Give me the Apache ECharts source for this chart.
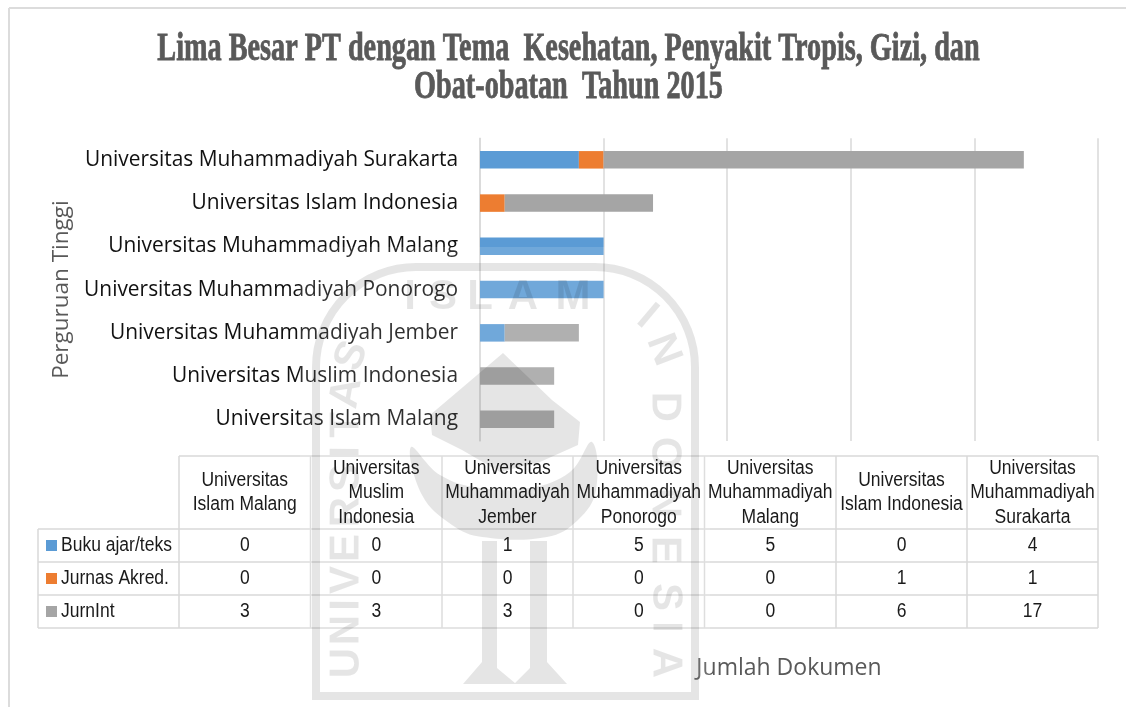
<!DOCTYPE html>
<html>
<head>
<meta charset="utf-8">
<title>Lima Besar PT</title>
<style>
  html, body { margin: 0; padding: 0; background: #fff; }
  #main { width: 1126px; height: 707px; }
</style>
<script src="https://cdn.jsdelivr.net/npm/echarts@6/dist/echarts.min.js"></script>
</head>
<body>
<div id="main"></div>
<script>
// data, bottom to top on the y axis
const categories = ['Universitas Islam Malang', 'Universitas Muslim Indonesia', 'Universitas Muhammadiyah Jember', 'Universitas Muhammadiyah Ponorogo', 'Universitas Muhammadiyah Malang', 'Universitas Islam Indonesia', 'Universitas Muhammadiyah Surakarta']
const bukuAjar = [0, 0, 1, 5, 5, 0, 4]
const jurnasAkred = [0, 0, 0, 0, 0, 1, 1]
const jurnInt = [3, 3, 3, 0, 0, 6, 17]
const seriesNames = ['Buku ajar/teks', 'Jurnas Akred.', 'JurnInt']
const seriesColors = ['#5b9bd5', '#ed7d31', '#a5a5a5']
const tableHeaders = ['Universitas\nIslam Malang', 'Universitas\nMuslim\nIndonesia', 'Universitas\nMuhammadiyah\nJember', 'Universitas\nMuhammadiyah\nPonorogo', 'Universitas\nMuhammadiyah\nMalang', 'Universitas\nIslam Indonesia', 'Universitas\nMuhammadiyah\nSurakarta']
const titleLines = ['Lima Besar PT dengan Tema  Kesehatan, Penyakit Tropis, Gizi, dan', 'Obat-obatan  Tahun 2015']

const seriesValues = [bukuAjar, jurnasAkred, jurnInt]
const gridColor = '#d9d9d9'
const greyText = '#595959'
const sansFont = '"Open Sans", "Noto Sans", sans-serif'

// data table under the plot
const colX = [179, 310.5, 442, 573, 704.5, 836, 967, 1098]
const rowY = [456, 529, 562, 595, 628]
const tableLeft = 38
const graphics = []

function hLine(x1, x2, y) {
  graphics.push({ type: 'line', silent: true, shape: { x1, y1: y, x2, y2: y }, style: { stroke: gridColor, lineWidth: 1.5 } })
}
function vLine(x, y1, y2) {
  graphics.push({ type: 'line', silent: true, shape: { x1: x, y1, x2: x, y2 }, style: { stroke: gridColor, lineWidth: 1.5 } })
}
function tableText(text, x, y, align) {
  graphics.push({
    type: 'text', silent: true, x, y, scaleX: 0.875, z: 20,
    style: { text, fill: '#1a1a1a', font: '20px "Liberation Sans", Arial, sans-serif', align: align || 'center', verticalAlign: 'middle', lineHeight: 24.5 }
  })
}

hLine(colX[0], colX[7], rowY[0])
rowY.slice(1).forEach(y => hLine(tableLeft, colX[7], y))
colX.forEach(x => vLine(x, rowY[0], rowY[4]))
vLine(tableLeft, rowY[1], rowY[4])

tableHeaders.forEach((h, i) => {
  tableText(h, (colX[i] + colX[i + 1]) / 2, (rowY[0] + rowY[1]) / 2)
})
seriesValues.forEach((vals, r) => {
  const cy = (rowY[r + 1] + rowY[r + 2]) / 2
  graphics.push({ type: 'rect', silent: true, shape: { x: 46, y: cy - 5.5, width: 11, height: 11 }, style: { fill: seriesColors[r] } })
  tableText(seriesNames[r], 61, cy, 'left')
  vals.forEach((v, i) => tableText(String(v), (colX[i] + colX[i + 1]) / 2, cy))
})

// outer frame, only top and left show in the scan
graphics.push({ type: 'line', silent: true, shape: { x1: 9, y1: 8, x2: 1126, y2: 8 }, style: { stroke: '#dcdcdc', lineWidth: 2 } })
graphics.push({ type: 'line', silent: true, shape: { x1: 9, y1: 8, x2: 9, y2: 707 }, style: { stroke: '#dcdcdc', lineWidth: 2 } })

// title, condensed by scaling
titleLines.forEach((t, i) => {
  graphics.push({
    type: 'text', silent: true, x: 568.5, y: 49.5 + i * 38.5, scaleX: 0.724,
    style: { text: t, fill: greyText, stroke: greyText, lineWidth: 0.8, font: 'bold 39px "Liberation Serif", serif', align: 'center', verticalAlign: 'middle' }
  })
})

// watermark logo sits over the chart like in the source scan
const wash = 'rgba(255,255,255,0.13)'
const ink = 'rgba(0,0,0,0.1)'
graphics.push({ type: 'rect', silent: true, z: 10, shape: { x: 300, y: 247, width: 410, height: 460 }, style: { fill: wash } })
graphics.push({
  type: 'rect', silent: true, z: 11,
  shape: { x: 316, y: 267, width: 379, height: 429, r: [100, 100, 0, 0] },
  style: { fill: 'none', stroke: ink, lineWidth: 8 }
})
const logoShapes = [
  // dome
  { smooth: 0, points: [[503, 353], [463, 387], [430, 415], [432, 435], [462, 450], [500, 472], [540, 462], [578, 445], [580, 422], [552, 400]] },
  // crescent
  { smooth: 0.4, points: [[411, 447], [422, 495], [452, 525], [482, 537], [547, 537], [578, 520], [596, 490], [592, 442], [570, 472], [530, 488], [480, 488], [440, 475]] },
  // stem
  { smooth: 0, points: [[482, 541], [497, 541], [497, 668], [515, 683], [530, 668], [530, 541], [547, 541], [547, 662], [567, 684], [463, 684], [482, 662]] }
]
logoShapes.forEach(s => {
  graphics.push({ type: 'polygon', silent: true, z: 11, shape: { points: s.points, smooth: s.smooth }, style: { fill: ink } })
})
const logoLetters = [
  // top word
  ['I', 410, 297, 0], ['S', 443, 297, 0], ['L', 480, 297, 0], ['A', 523, 297, 0], ['M', 573, 297, 0],
  // right word
  ['I', 647, 317, -0.7], ['N', 663, 350, -1.2], ['D', 664, 407, -1.57], ['O', 664, 453, -1.57], ['N', 664, 503, -1.57],
  ['E', 664, 550, -1.57], ['S', 665, 597, -1.57], ['I', 665, 627, -1.57], ['A', 665, 663, -1.57],
  // left word
  ['U', 347, 663, 1.57], ['N', 347, 630, 1.57], ['I', 347, 605, 1.57], ['V', 347, 580, 1.57], ['E', 347, 548, 1.57], ['R', 347, 512, 1.57],
  ['S', 347, 478, 1.57], ['I', 347, 452, 1.57], ['T', 347, 425, 1.57], ['A', 347, 393, 1.4], ['S', 352, 356, 1.2]
]
logoLetters.forEach(l => {
  graphics.push({
    type: 'text', silent: true, z: 11, x: l[1], y: l[2], rotation: l[3],
    style: { text: l[0], fill: ink, font: 'bold 42px "Liberation Sans", sans-serif', align: 'center', verticalAlign: 'middle' }
  })
})

const options = {
  animation: false,
  backgroundColor: '#fff',
  grid: { left: 480, right: 28, top: 138.2, bottom: 266 },
  xAxis: {
    type: 'value',
    min: 0,
    max: 25,
    interval: 5,
    name: 'Jumlah Dokumen',
    nameLocation: 'middle',
    nameGap: 216,
    nameTextStyle: { color: greyText, fontSize: 23, fontFamily: sansFont },
    axisLine: { show: false },
    axisTick: { show: false },
    axisLabel: { show: false },
    splitLine: { show: true, lineStyle: { color: gridColor, width: 1.5 } }
  },
  yAxis: {
    type: 'category',
    data: categories,
    name: 'Perguruan Tinggi',
    nameLocation: 'middle',
    nameRotate: 90,
    nameGap: 407,
    nameTextStyle: { color: greyText, fontSize: 22.5, fontFamily: sansFont },
    axisLine: { show: true, lineStyle: { color: gridColor, width: 1.5 } },
    axisTick: { show: false },
    axisLabel: { color: '#111', fontSize: 20.9, margin: 22, fontFamily: sansFont }
  },
  series: seriesValues.map((vals, i) => ({
    name: seriesNames[i],
    type: 'bar',
    stack: 'total',
    barWidth: 17.5,
    itemStyle: { color: seriesColors[i] },
    data: vals
  })),
  graphic: { elements: graphics }
}

let chart = echarts.init(document.getElementById('main'), null, { renderer: 'canvas' })
chart.setOption(options)
window.addEventListener('resize', () => {
  chart.resize()
})
</script>
</body>
</html>
